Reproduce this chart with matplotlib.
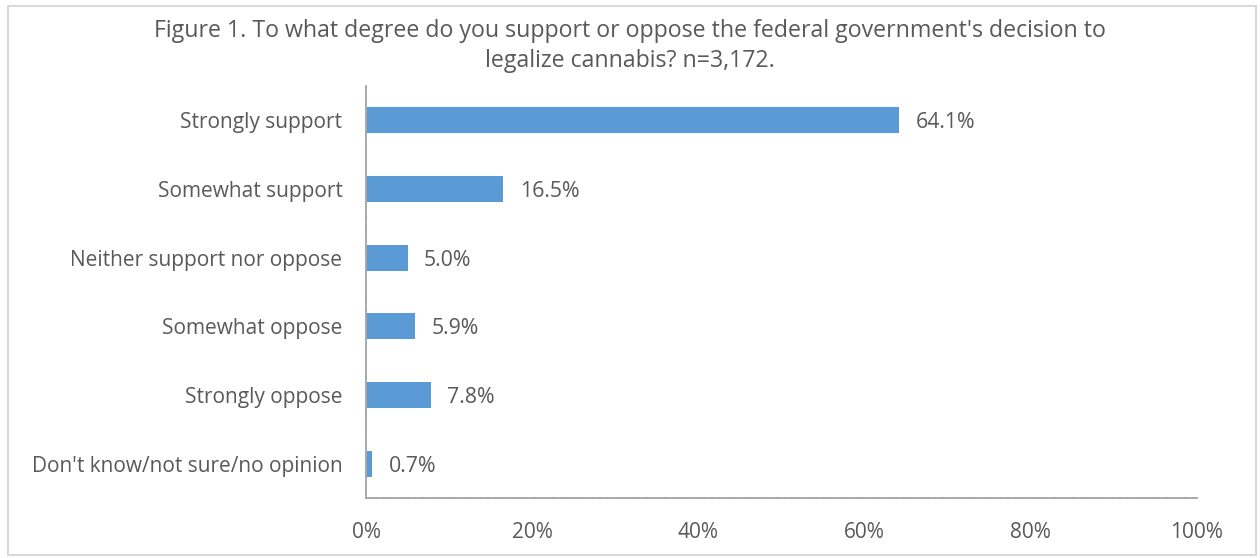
import matplotlib
matplotlib.use("Agg")
import matplotlib.pyplot as plt
from matplotlib.patches import Rectangle
from matplotlib.ticker import FuncFormatter

# Survey responses, top to bottom
categories = [
    "Strongly support",
    "Somewhat support",
    "Neither support nor oppose",
    "Somewhat oppose",
    "Strongly oppose",
    "Don't know/not sure/no opinion",
]
percentages = [64.1, 16.5, 5.0, 5.9, 7.8, 0.7]
x_ticks = [0, 20, 40, 60, 80, 100]

plt.rcParams["font.family"] = ["Open Sans", "DejaVu Sans"]
text_color = "#595959"

fig = plt.figure(figsize=(12.6, 5.58), dpi=100)
ax = fig.add_axes([366 / 1260, 1 - 498 / 558, (1197 - 366) / 1260, (498 - 86) / 558])

# Light grey frame around the whole chart
fig.patches.append(Rectangle((8 / 1260, 3 / 558), 1248 / 1260, 549 / 558,
                             transform=fig.transFigure, fill=False,
                             edgecolor="#d9d9d9", linewidth=1.5))

y_pos = list(range(len(categories)))
bars = ax.barh(y_pos, percentages, height=0.38, color="#5b9bd5")
ax.set_ylim(len(categories) - 0.5, -0.5)
ax.set_xlim(0, 100)

for y, v in zip(y_pos, percentages):
    ax.text(v + 2.0, y, f"{v:.1f}%", va="center_baseline", ha="left",
            fontsize=15.3, color=text_color)

ax.set_yticks(y_pos)
ax.set_yticklabels(categories, fontsize=15, color=text_color)
ax.set_xticks(x_ticks)
ax.xaxis.set_major_formatter(FuncFormatter(lambda v, _: f"{v:.0f}%"))
ax.tick_params(axis="x", labelsize=15, labelcolor=text_color, length=0, pad=17)
ax.tick_params(axis="y", length=0, pad=17)

for side in ["top", "right"]:
    ax.spines[side].set_visible(False)
for side in ["left", "bottom"]:
    ax.spines[side].set_color("#a6a6a6")
    ax.spines[side].set_linestyle((0, (1.2, 0.8)))
    ax.spines[side].set_linewidth(1.3)

fig.text(0.5, 1 - 46 / 558,
         "Figure 1. To what degree do you support or oppose the federal government's decision to\n"
         "legalize cannabis? n=3,172.",
         ha="center", va="center", fontsize=16.7, color=text_color, linespacing=1.3)

fig.savefig("out.png", dpi=100)
